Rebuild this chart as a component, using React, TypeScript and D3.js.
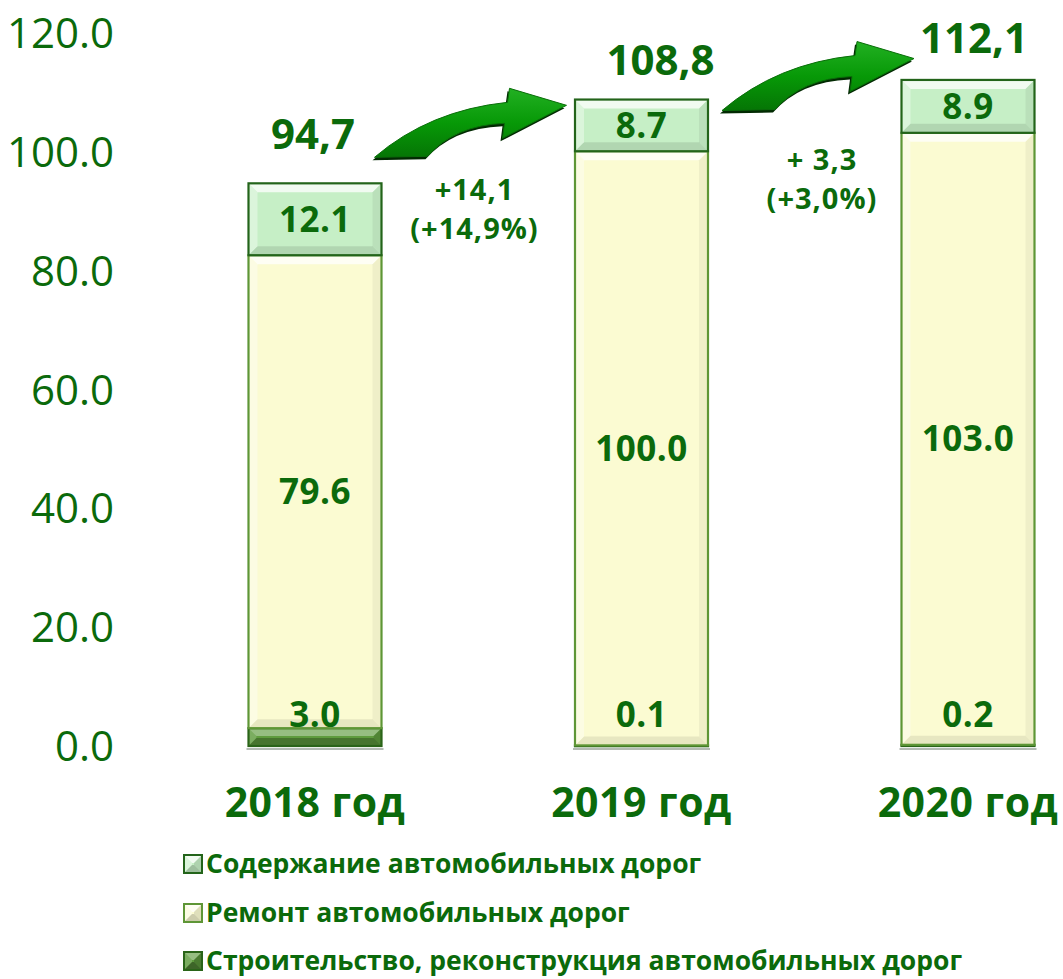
import React from 'react';
import * as d3 from 'd3';

// Stacked bars with a bevelled "Excel 3D" look, totals and growth arrows between years.

const years = ['2018 год', '2019 год', '2020 год'];
const construction = [3.0, 0.1, 0.2];
const repair = [79.6, 100.0, 103.0];
const maintenance = [12.1, 8.7, 8.9];
const changeLines = [
  ['+14,1', '(+14,9%)'],
  ['+ 3,3', '(+3,0%)'],
];
const yTicks = [0, 20, 40, 60, 80, 100, 120];

const seriesKeys = ['construction', 'repair', 'maintenance'];
const legendLabels = [
  'Содержание автомобильных дорог',
  'Ремонт автомобильных дорог',
  'Строительство, реконструкция автомобильных дорог',
];

const W = 1063;
const H = 979;
const TEXT = '#0b6a0b';
const FONT = "'Open Sans', 'Noto Sans', sans-serif";

const STYLE = {
  construction: { fill: '#5f9c3e', stroke: '#2a6418', light: 0.35, dark: 0.25 },
  repair: { fill: '#fbfbd2', stroke: '#5e9636', light: 0.75, dark: 0.08 },
  maintenance: { fill: '#c6efc6', stroke: '#23641a', light: 0.75, dark: 0.1 },
};

// layout nudges (px) for labels and arrows, not data
const totalNudge = [
  [-2, -49],
  [19, -40],
  [6, -42],
];
const arrowNudge = [
  [-7, -26, 32],
  [14, 11, 49],
];

function Bevel({ x, y, w, h, fill, stroke, light, dark, sw = 2.2 }) {
  const d = Math.max(0, Math.min(9, h / 2 - 1, w / 2));
  const pts = (a) => a.map((p) => p.join(',')).join(' ');
  return (
    <g>
      <rect x={x} y={y} width={w} height={h} fill={fill} />
      {d > 0.5 ? (
        <>
          <polygon
            points={pts([[x, y], [x + w, y], [x + w - d, y + d], [x + d, y + d]])}
            fill="#fff"
            opacity={light}
          />
          <polygon
            points={pts([[x, y], [x + d, y + d], [x + d, y + h - d], [x, y + h]])}
            fill="#fff"
            opacity={light * 0.5}
          />
          <polygon
            points={pts([[x + w, y], [x + w, y + h], [x + w - d, y + h - d], [x + w - d, y + d]])}
            fill="#000"
            opacity={dark * 0.6}
          />
          <polygon
            points={pts([[x, y + h], [x + d, y + h - d], [x + w - d, y + h - d], [x + w, y + h]])}
            fill="#000"
            opacity={dark}
          />
        </>
      ) : null}
      <rect x={x} y={y} width={w} height={h} fill="none" stroke={stroke} strokeWidth={sw} />
    </g>
  );
}

function arrowPath(tx, ty) {
  const p = d3.path();
  p.moveTo(tx, ty);
  p.quadraticCurveTo(tx + 55, ty - 47, tx + 133, ty - 55);
  p.lineTo(tx + 135, ty - 69);
  p.lineTo(tx + 192, ty - 52);
  p.lineTo(tx + 128, ty - 19);
  p.lineTo(tx + 130, ty - 34);
  p.quadraticCurveTo(tx + 80, ty - 32, tx + 53, ty - 1);
  p.closePath();
  return p.toString();
}

export default function App() {
  const rows = years.map((year, i) => ({
    year,
    construction: construction[i],
    repair: repair[i],
    maintenance: maintenance[i],
  }));
  const stacked = d3.stack().keys(seriesKeys)(rows);
  const totals = rows.map((r) => r.construction + r.repair + r.maintenance);

  const y = d3.scaleLinear().domain([0, 120]).range([746, 33]);
  const x = d3.scalePoint().domain(years).range([315, 968]);
  const bw = 133;
  const fmtTick = d3.format('.1f');
  const fmtComma = (v) => d3.format('.1f')(v).replace('.', ',');

  return (
    <svg
      width={W}
      height={H}
      style={{ position: 'absolute', left: 0, top: 0, background: '#fff' }}
      fontFamily={FONT}
    >
      <defs>
        <linearGradient id="arrowFill" x1="0" y1="0" x2="0" y2="1">
          <stop offset="0" stopColor="#22b022" />
          <stop offset="0.5" stopColor="#079907" />
          <stop offset="1" stopColor="#057505" />
        </linearGradient>
      </defs>

      {/* y axis labels */}
      {yTicks.map((t) => (
        <text
          key={t}
          x={114}
          y={y(t)}
          dy="0.36em"
          textAnchor="end"
          fontSize={42}
          fill={TEXT}
        >
          {fmtTick(t)}
        </text>
      ))}

      {/* floor lines under bars */}
      {years.map((yr) => (
        <line
          key={yr}
          x1={x(yr) - bw / 2 - 2}
          x2={x(yr) + bw / 2 + 2}
          y1={y(0) + 3}
          y2={y(0) + 3}
          stroke="#9aa59a"
          strokeWidth={1.5}
        />
      ))}

      {/* bars */}
      {stacked.map((layer) => {
        const st = STYLE[layer.key];
        return (
          <g key={layer.key}>
            {layer.map((seg, i) => {
              const x0 = x(years[i]) - bw / 2;
              const y0 = y(seg[1]);
              const h = y(seg[0]) - y(seg[1]);
              return (
                <Bevel
                  key={i}
                  x={x0}
                  y={y0}
                  w={bw}
                  h={Math.max(h, 0.8)}
                  fill={st.fill}
                  stroke={st.stroke}
                  light={st.light}
                  dark={st.dark}
                />
              );
            })}
          </g>
        );
      })}

      {/* segment value labels */}
      {stacked.map((layer) =>
        layer.map((seg, i) => {
          const v = seg[1] - seg[0];
          const cy = v < 5 ? y(0) - 32 : (y(seg[0]) + y(seg[1])) / 2;
          return (
            <text
              key={layer.key + i}
              x={x(years[i])}
              y={cy}
              dy="0.36em"
              textAnchor="middle"
              fontSize={35}
              fontWeight={700}
              letterSpacing={0.5}
              fill={TEXT}
            >
              {fmtTick(v)}
            </text>
          );
        }),
      )}

      {/* totals */}
      {totals.map((t, i) => (
        <text
          key={i}
          x={x(years[i]) + totalNudge[i][0]}
          y={y(t) + totalNudge[i][1]}
          dy="0.36em"
          textAnchor="middle"
          fontSize={42}
          fontWeight={700}
          fill={TEXT}
        >
          {fmtComma(t)}
        </text>
      ))}

      {/* growth arrows */}
      {changeLines.map((lines, i) => {
        const tx = x(years[i]) + bw / 2 + arrowNudge[i][0];
        const ty = y(totals[i]) + arrowNudge[i][1];
        const d = arrowPath(tx, ty);
        return (
          <g key={i}>
            <path d={d} transform="translate(-2,3)" fill="#022a02" />
            <path d={d} fill="url(#arrowFill)" stroke="#0a6e0a" strokeWidth={1} />
            {lines.map((ln, j) => (
              <text
                key={j}
                x={tx + 100}
                y={ty + arrowNudge[i][2] + j * 39}
                dy="0.36em"
                textAnchor="middle"
                fontSize={29}
                fontWeight={700}
                letterSpacing={1}
                fill={TEXT}
              >
                {ln}
              </text>
            ))}
          </g>
        );
      })}

      {/* x category labels */}
      {years.map((yr) => (
        <text
          key={yr}
          x={x(yr)}
          y={802}
          dy="0.36em"
          textAnchor="middle"
          fontSize={41}
          fontWeight={700}
          letterSpacing={0.5}
          fill={TEXT}
        >
          {yr}
        </text>
      ))}

      {/* legend */}
      {['maintenance', 'repair', 'construction'].map((k, i) => {
        const st = STYLE[k];
        const cy = [864, 913, 961][i];
        return (
          <g key={k}>
            <Bevel
              x={184}
              y={cy - 9}
              w={18}
              h={18}
              fill={st.fill}
              stroke={st.stroke}
              light={st.light}
              dark={st.dark + 0.1}
              sw={2}
            />
            <text x={206} y={cy} dy="0.34em" fontSize={26.5} fontWeight={700} fill={TEXT}>
              {legendLabels[i]}
            </text>
          </g>
        );
      })}
    </svg>
  );
}
